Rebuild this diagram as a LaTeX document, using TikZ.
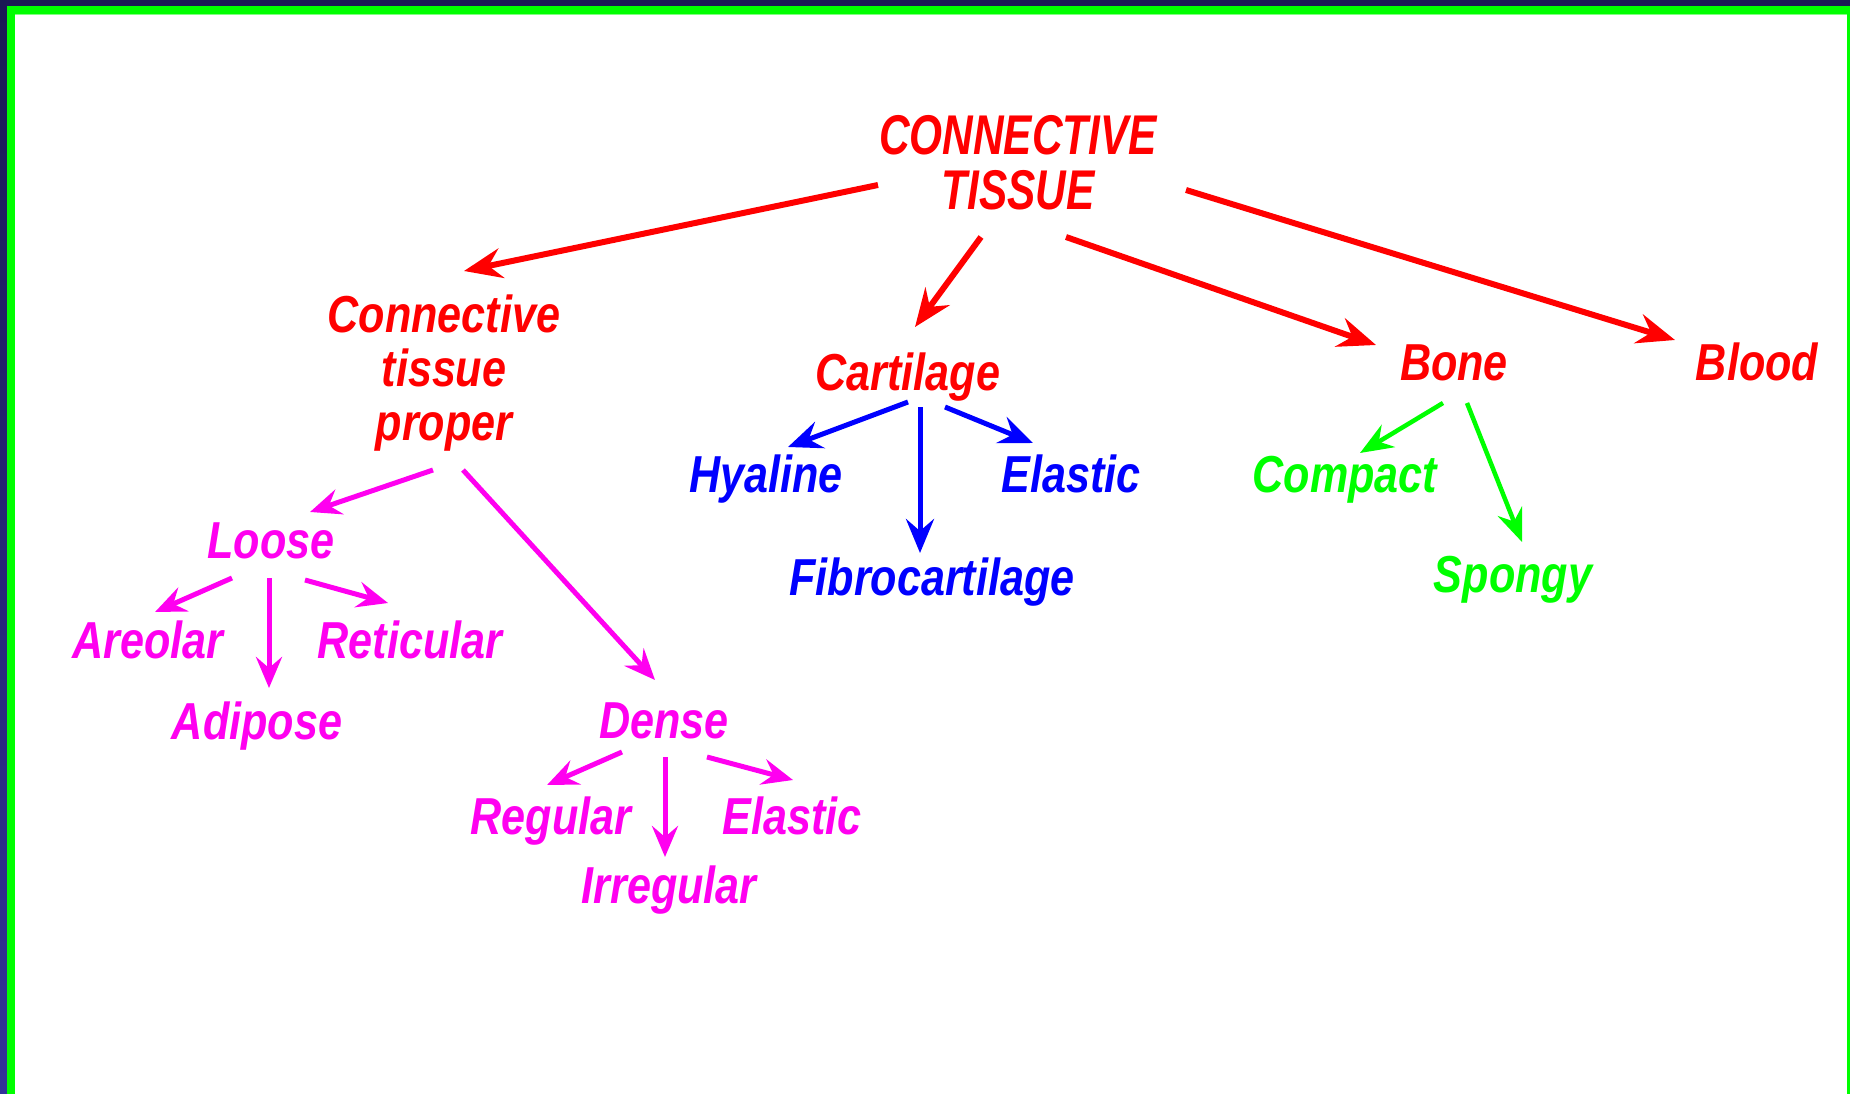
\documentclass[tikz,border=0pt]{standalone}
\usepackage{fontspec}
\usetikzlibrary{arrows.meta}
\newfontfamily\labfont[FakeStretch=0.83]{Liberation Sans}
\newfontfamily\capfont[FakeStretch=0.757]{Liberation Sans}
\definecolor{navyA}{HTML}{1B1A55}
\definecolor{navyB}{HTML}{333399}
\definecolor{gr}{HTML}{00FF00}
\definecolor{mg}{HTML}{FF00F0}
\definecolor{rd}{HTML}{FF0000}
\definecolor{bl}{HTML}{0000FF}
\tikzset{
  lab/.style={inner sep=0pt, anchor=base, font=\labfont\bfseries\itshape\fontsize{52}{50}\selectfont},
  caplab/.style={inner sep=0pt, anchor=base, font=\capfont\bfseries\itshape\fontsize{56}{55}\selectfont},
  rarr/.style={line width=6pt, draw=rd, color=rd, -{Stealth[length=38pt,width=30pt,inset=13pt]}},
  barr/.style={line width=5pt, draw=bl, color=bl, -{Stealth[length=34pt,width=28pt,inset=12pt]}},
  marr/.style={line width=5pt, draw=mg, color=mg, -{Stealth[length=31pt,width=26pt,inset=11pt]}},
  garr/.style={line width=4.5pt, draw=gr, color=gr, -{Stealth[length=33pt,width=26pt,inset=11pt]}},
}
\newcommand{\mlines}[4]{\vtop{\baselineskip=#1\hbox to 260pt{\hss #2\hss}\hbox to 260pt{\hss #3\hss}\hbox to 260pt{\hss #4\hss}}}
\newcommand{\twolines}[3]{\vtop{\baselineskip=#1\hbox to 320pt{\hss #2\hss}\hbox to 320pt{\hss #3\hss}}}
\begin{document}
\begin{tikzpicture}[x=1pt,y=-1pt]
\useasboundingbox (0,0) rectangle (1850,1094);
\fill[white] (0,0) rectangle (1850,1094);
% frame
\fill[navyA] (0,0) rectangle (1850,6);
\shade[top color=navyA, bottom color=navyB] (0,0) rectangle (7,1094);
\fill[gr] (7,6) rectangle (1850,14);
\fill[gr] (7,6) rectangle (15,1094);
\fill[gr!50] (15,14) rectangle (1847,15.5);
\fill[gr] (1847,6) rectangle (1850,1094);

% nodes
\node[caplab, text=rd] (ct) at (1018,155) {\twolines{55pt}{CONNECTIVE}{TISSUE}};
\node[lab, text=rd] (ctp) at (444,332) {\mlines{54pt}{Connective}{tissue}{proper}};
\node[lab, text=rd] (cart) at (908,390) {Cartilage};
\node[lab, text=rd] (bone) at (1454,380) {Bone};
\node[lab, text=rd] (blood) at (1757,380) {Blood};
\node[lab, text=bl] (hya) at (766,492) {Hyaline};
\node[lab, text=bl] (ela) at (1071,492) {Elastic};
\node[lab, text=bl] (fib) at (932,595) {Fibrocartilage};
\node[lab, text=gr] (comp) at (1345,492) {Compact};
\node[lab, text=gr] (spon) at (1513,592) {Spongy};
\node[lab, text=mg] (loose) at (271,558) {Loose};
\node[lab, text=mg] (areo) at (148,658) {Areolar};
\node[lab, text=mg] (reti) at (410,658) {Reticular};
\node[lab, text=mg] (adip) at (257,739) {Adipose};
\node[lab, text=mg] (dense) at (664,738) {Dense};
\node[lab, text=mg] (reg) at (551,834) {Regular};
\node[lab, text=mg] (ela2) at (792,834) {Elastic};
\node[lab, text=mg] (irr) at (669,903) {Irregular};

% connectors
\draw[rarr] ([shift={(-140,30)}]ct.base) -- ([shift={(20,-61)}]ctp.base);
\draw[rarr] ([shift={(-37,82)}]ct.base) -- ([shift={(7,-63)}]cart.base);
\draw[rarr] ([shift={(48,82)}]ct.base) -- ([shift={(-78,-35)}]bone.base);
\draw[rarr] ([shift={(168,35)}]ct.base) -- ([shift={(-82,-40)}]blood.base);

\draw[barr] ([shift={(0,12)}]cart.base) -- ([shift={(22,-45)}]hya.base);
\draw[barr] ([shift={(12,17)}]cart.base) -- ([shift={(-12,-42)}]fib.base);
\draw[barr] ([shift={(37,17)}]cart.base) -- ([shift={(-38,-49)}]ela.base);

\draw[garr] ([shift={(-11,23)}]bone.base) -- ([shift={(15,-39)}]comp.base);
\draw[garr] ([shift={(13,23)}]bone.base) -- ([shift={(9,-50)}]spon.base);

\draw[marr] ([shift={(-11,138)}]ctp.base) -- ([shift={(39,-46)}]loose.base);
\draw[marr] ([shift={(19,138)}]ctp.base) -- ([shift={(-9,-58)}]dense.base);
\draw[marr] ([shift={(-39,20)}]loose.base) -- ([shift={(7,-46)}]areo.base);
\draw[marr] ([shift={(-2,20)}]loose.base) -- ([shift={(12,-51)}]adip.base);
\draw[marr] ([shift={(34,22)}]loose.base) -- ([shift={(-22,-55)}]reti.base);
\draw[marr] ([shift={(-42,14)}]dense.base) -- ([shift={(-4,-49)}]reg.base);
\draw[marr] ([shift={(1,19)}]dense.base) -- ([shift={(-4,-46)}]irr.base);
\draw[marr] ([shift={(43,19)}]dense.base) -- ([shift={(1,-54)}]ela2.base);
\end{tikzpicture}
\end{document}
